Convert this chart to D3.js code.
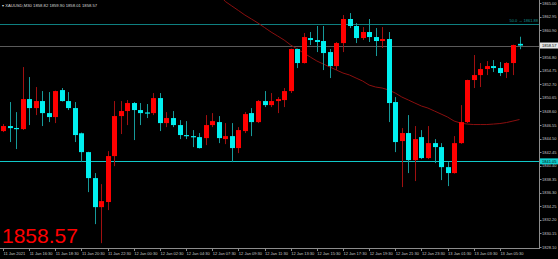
<!DOCTYPE html>
<html>
<head>
<meta charset="utf-8">
<script src="https://cdn.jsdelivr.net/npm/d3@7"></script>
<style>
  html, body { margin: 0; padding: 0; background: #000; }
  svg { display: block; }
  text { font-family: "Liberation Sans", Arial, sans-serif; }
</style>
</head>
<body>
<div id="chart"></div>
<script>
// XAUUSD M30 candles, oldest first
let opens  = [1845.63,1846.39,1846.10,1845.93,1850.47,1849.11,1850.17,1848.35,1847.75,1851.83,
              1850.17,1849.11,1845.30,1842.45,1838.52,1834.13,1834.90,1841.85,1847.90,1848.66,
              1849.87,1848.81,1848.45,1848.35,1850.62,1846.84,1847.60,1846.54,1845.03,1844.87,
              1844.72,1844.57,1846.54,1846.99,1844.42,1844.87,1843.06,1845.63,1848.35,1846.99,
              1850.17,1849.56,1850.17,1850.32,1851.68,1858.04,1855.92,1859.70,1859.40,1859.25,
              1857.58,1855.46,1858.94,1862.58,1861.52,1859.70,1860.61,1859.85,1859.25,1859.55,
              1850.02,1844.12,1845.33,1841.24,1844.72,1841.55,1843.81,1843.21,1840.18,1839.28,
              1843.81,1846.99,1853.35,1854.10,1855.01,1855.46,1855.16,1854.56,1855.92,1858.82]
let highs  = [1846.69,1850.02,1848.50,1855.31,1853.80,1852.29,1851.68,1851.53,1851.75,1852.14,
              1851.53,1850.02,1845.40,1842.50,1839.28,1837.61,1842.60,1850.17,1850.17,1850.32,
              1850.02,1849.87,1849.72,1851.38,1851.38,1848.50,1848.66,1847.29,1847.14,1845.78,
              1845.33,1848.05,1848.35,1847.90,1846.84,1846.84,1846.23,1848.50,1849.11,1850.32,
              1851.68,1851.38,1850.77,1852.14,1858.10,1858.10,1860.46,1860.61,1861.52,1861.52,
              1858.04,1859.10,1863.18,1863.48,1861.97,1861.36,1862.58,1861.21,1861.36,1860.61,
              1850.77,1846.08,1848.05,1846.39,1845.78,1846.39,1844.42,1843.81,1840.94,1844.87,
              1849.56,1853.40,1857.13,1855.92,1856.22,1856.37,1856.07,1856.07,1858.70,1859.90]
let lows   = [1845.48,1843.97,1842.91,1845.80,1846.54,1848.05,1846.39,1846.99,1846.84,1850.10,
              1848.81,1843.97,1840.94,1836.40,1831.56,1828.68,1833.68,1840.33,1845.18,1846.54,
              1844.27,1846.54,1847.60,1848.05,1845.63,1846.23,1846.23,1844.42,1844.42,1843.21,
              1843.00,1843.51,1846.23,1843.81,1843.66,1840.94,1842.30,1845.33,1844.87,1846.84,
              1849.26,1849.26,1848.35,1849.26,1851.38,1855.16,1855.85,1858.64,1857.58,1854.86,
              1853.65,1854.86,1857.58,1861.21,1858.94,1859.40,1859.10,1856.98,1858.19,1846.99,
              1842.45,1837.16,1839.28,1838.07,1841.39,1841.39,1840.79,1838.22,1837.31,1839.20,
              1843.70,1846.84,1852.14,1852.29,1854.10,1854.56,1853.95,1853.65,1854.10,1858.01]
let closes = [1846.39,1846.08,1845.93,1850.47,1849.11,1850.17,1848.35,1847.75,1851.68,1850.17,
              1849.11,1845.03,1842.45,1838.52,1834.13,1835.04,1841.85,1847.90,1848.66,1849.87,
              1848.81,1848.35,1848.35,1850.62,1846.84,1847.60,1846.54,1845.03,1844.87,1844.72,
              1843.06,1846.54,1847.14,1844.57,1844.87,1843.06,1845.78,1848.20,1846.99,1850.17,
              1849.56,1850.17,1850.47,1851.68,1858.04,1855.92,1859.85,1859.40,1859.10,1857.43,
              1855.46,1858.94,1862.58,1861.52,1859.70,1860.61,1859.85,1859.25,1859.55,1849.87,
              1843.97,1845.33,1841.24,1844.42,1841.55,1843.81,1843.21,1840.18,1839.28,1843.81,
              1846.99,1853.35,1854.10,1855.01,1855.46,1855.16,1854.41,1855.92,1858.64,1858.57]

// moving average, visible from bar 33 on
let maStart = 33
let maValues = [1866.36,1865.23,1864.55,1863.87,1863.18,1862.58,1861.97,1861.29,1860.61,1860.01,
                1859.40,1858.65,1858.04,1857.44,1856.83,1856.23,1855.77,1855.32,1854.86,1854.41,
                1854.11,1853.65,1853.20,1852.59,1852.29,1852.14,1851.84,1851.38,1850.78,1850.33,
                1849.87,1849.42,1849.11,1848.66,1848.21,1847.75,1847.15,1846.84,1846.69,1846.62,
                1846.62,1846.62,1846.69,1846.77,1846.92,1847.15,1847.38]

// the 1858.85 label sits under the price box, so it is left out
let priceTicks = [1865.00,1862.95,1860.90,1856.80,1854.75,1852.70,1850.65,1848.60,1846.55,
                  1844.50,1842.45,1840.40,1838.35,1836.30,1834.25,1832.20,1830.15,1828.10]
let timeLabels = ['11 Jan 2021','11 Jan 16:30','11 Jan 18:30','11 Jan 20:30','11 Jan 22:30',
                  '12 Jan 00:30','12 Jan 02:30','12 Jan 04:30','12 Jan 07:30','12 Jan 09:30',
                  '12 Jan 11:30','12 Jan 13:30','12 Jan 15:30','12 Jan 17:30','12 Jan 19:30',
                  '12 Jan 21:30','12 Jan 23:30','13 Jan 01:30','13 Jan 03:30','13 Jan 05:30']
let labelEvery = 4

let fiboLevel = 1861.88
let fiboText = '50.0 → 1861.88'
let hLine = 1841.05
let header = '▾ XAUUSD,M30  1858.82 1859.90 1858.01 1858.57'

let width = 558
let height = 259
let plotRight = 539
let plotBottom = 248

let xScale = d3.scaleLinear()
               .domain([0, opens.length - 1])
               .range([3, 519.5])

let yScale = d3.scaleLinear()
               .domain([1828.10, 1865.00])
               .range([247, 3])

let svg = d3.select('#chart')
            .append('svg')
            .attr('width', width)
            .attr('height', height)
            .style('background', '#000')

svg.append('clipPath')
   .attr('id', 'plot')
   .append('rect')
   .attr('width', plotRight)
   .attr('height', plotBottom)

let plot = svg.append('g').attr('clip-path', 'url(#plot)')

let crisp = (v) => Math.round(v) + 0.5

// horizontal lines behind the candles
plot.append('line')
    .attr('x1', 0).attr('x2', plotRight)
    .attr('y1', crisp(yScale(fiboLevel))).attr('y2', crisp(yScale(fiboLevel)))
    .attr('stroke', '#0e7f80')

plot.append('line')
    .attr('x1', 0).attr('x2', plotRight)
    .attr('y1', crisp(yScale(closes[closes.length - 1]))).attr('y2', crisp(yScale(closes[closes.length - 1])))
    .attr('stroke', '#5a5a5a')

plot.append('line')
    .attr('x1', 0).attr('x2', plotRight)
    .attr('y1', crisp(yScale(hLine))).attr('y2', crisp(yScale(hLine)))
    .attr('stroke', '#10c8c8')

plot.append('text')
    .attr('x', plotRight - 1)
    .attr('y', yScale(fiboLevel) - 1.5)
    .attr('text-anchor', 'end')
    .attr('font-size', 4)
    .attr('fill', '#139090')
    .text(fiboText)

// moving average
let line = d3.line()
             .x((d, i) => xScale(maStart + i))
             .y((d) => yScale(d))

plot.append('path')
    .attr('d', line(maValues))
    .attr('fill', 'none')
    .attr('stroke', '#8a0f0f')
    .attr('stroke-width', 1)

// candles (red = up, cyan = down)
let bars = d3.range(opens.length)

plot.selectAll('.wick')
    .data(bars)
    .enter()
    .append('line')
    .attr('class', 'wick')
    .attr('x1', (i) => crisp(xScale(i)))
    .attr('x2', (i) => crisp(xScale(i)))
    .attr('y1', (i) => yScale(highs[i]))
    .attr('y2', (i) => yScale(lows[i]))
    .attr('stroke', (i) => closes[i] >= opens[i] ? '#a01010' : '#169a9a')

plot.selectAll('.body')
    .data(bars)
    .enter()
    .append('rect')
    .attr('class', 'body')
    .attr('x', (i) => Math.round(xScale(i)) - 2)
    .attr('width', 5)
    .attr('y', (i) => yScale(Math.max(opens[i], closes[i])))
    .attr('height', (i) => Math.max(1.2, Math.abs(yScale(opens[i]) - yScale(closes[i]))))
    .attr('fill', (i) => closes[i] >= opens[i] ? '#ff0000' : '#00f0f0')

// right price axis
svg.append('line')
   .attr('x1', plotRight + 0.5).attr('x2', plotRight + 0.5)
   .attr('y1', 0).attr('y2', plotBottom)
   .attr('stroke', '#8c8c8c')

let yAxis = svg.append('g')
priceTicks.forEach((p) => {
    yAxis.append('line')
         .attr('x1', plotRight).attr('x2', plotRight + 2.5)
         .attr('y1', crisp(yScale(p))).attr('y2', crisp(yScale(p)))
         .attr('stroke', '#8c8c8c')
    yAxis.append('text')
         .attr('x', plotRight + 3)
         .attr('y', yScale(p) + 1.5)
         .attr('font-size', 4)
         .attr('fill', '#c8c8c8')
         .text(p.toFixed(2))
})

// price boxes
let last = closes[closes.length - 1]
svg.append('rect')
   .attr('x', plotRight + 1).attr('y', yScale(last) - 3)
   .attr('width', width - plotRight - 1).attr('height', 6)
   .attr('fill', '#e6e6e6')
svg.append('text')
   .attr('x', plotRight + 3).attr('y', yScale(last) + 1.5)
   .attr('font-size', 4).attr('fill', '#000')
   .text(last.toFixed(2))

svg.append('rect')
   .attr('x', plotRight + 1).attr('y', yScale(hLine) - 3)
   .attr('width', width - plotRight - 1).attr('height', 6)
   .attr('fill', '#10d0d0')
svg.append('text')
   .attr('x', plotRight + 3).attr('y', yScale(hLine) + 1.5)
   .attr('font-size', 4).attr('fill', '#000')
   .text(hLine.toFixed(2))

// bottom time axis
svg.append('line')
   .attr('x1', 0).attr('x2', plotRight + 1)
   .attr('y1', plotBottom + 0.5).attr('y2', plotBottom + 0.5)
   .attr('stroke', '#8c8c8c')

timeLabels.forEach((t, k) => {
    let x = xScale(k * labelEvery)
    svg.append('line')
       .attr('x1', crisp(x)).attr('x2', crisp(x))
       .attr('y1', plotBottom).attr('y2', plotBottom + 3)
       .attr('stroke', '#8c8c8c')
    svg.append('text')
       .attr('x', x + 0.5)
       .attr('y', 255)
       .attr('font-size', 4)
       .attr('fill', '#c8c8c8')
       .text(t)
})

// header and big price
svg.append('text')
   .attr('x', 2).attr('y', 6.5)
   .attr('font-size', 4.2)
   .attr('fill', '#d8d8d8')
   .text(header)

svg.append('text')
   .attr('x', 2).attr('y', 243)
   .attr('font-size', 21)
   .attr('fill', '#ff0000')
   .text(last.toFixed(2))
</script>
</body>
</html>
